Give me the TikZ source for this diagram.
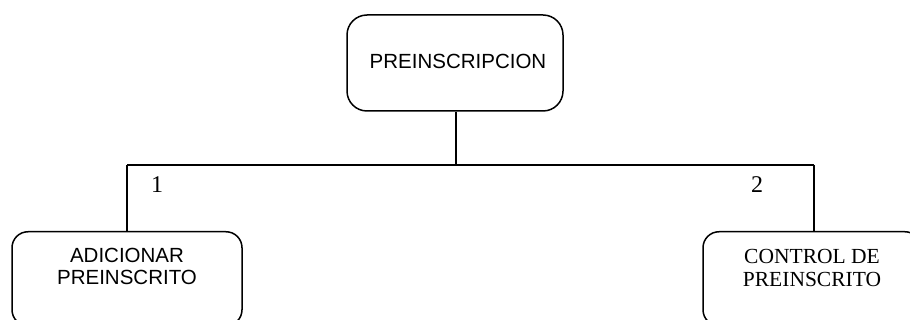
\documentclass[tikz,border=0pt]{standalone}
\usepackage{fontspec}
\setmainfont{Liberation Serif}
\newfontfamily\arialf{Liberation Sans}
\begin{document}
\begin{tikzpicture}[x=1pt,y=-1pt,
  boxst/.style={draw, rounded corners=16pt, line width=1.5pt, inner sep=0pt},
  conn/.style={line width=2.3pt},
  sanst/.style={font=\arialf\fontsize{20.5}{22}\selectfont, align=center},
  serift/.style={font=\fontsize{21.5}{23}\selectfont, align=center},
  numst/.style={font=\fontsize{24}{26}\selectfont}]
\useasboundingbox (0,0) rectangle (910,320);
\clip (0,0) rectangle (910,320);
\node[boxst, rounded corners=20pt, minimum width=216, minimum height=96] (top) at (455,63) {};
\node[sanst] (toptxt) at (458,61) {PREINSCRIPCION};
\node[boxst, minimum width=230, minimum height=94, anchor=north] (add) at (127,231) {};
\node[sanst] (addtxt) at (127,266) {ADICIONAR\\PREINSCRITO};
\node[boxst, minimum width=218, minimum height=94, anchor=north] (ctl) at (812,231) {};
\node[serift] (ctltxt) at (812,268) {CONTROL DE\\PREINSCRITO};
\coordinate (jn) at (456,165);
\coordinate (jl) at (127,165);
\coordinate (jr) at (814,165);
\draw[conn] (top.south -| jn) -- (jn);
\draw[conn] (jl) -- (jr);
\draw[conn] (jl) -- (add.north);
\draw[conn] (jr) -- (jr |- ctl.north);
\node[numst, anchor=base] (n1) at (157,193) {1};
\node[numst, anchor=base] (n2) at (757,193) {2};
\end{tikzpicture}
\end{document}
